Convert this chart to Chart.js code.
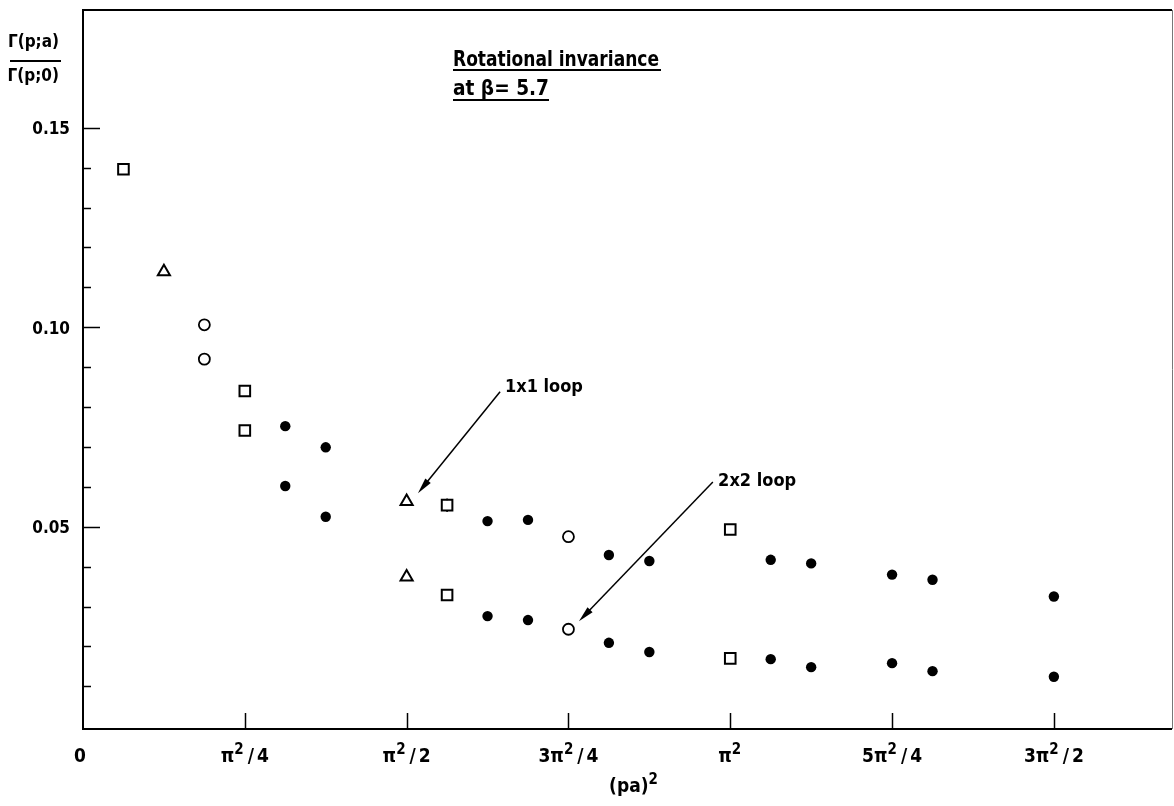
<!DOCTYPE html>
<html>
<head>
<meta charset="utf-8">
<script src="https://cdn.jsdelivr.net/npm/chart.js@4.4.1/dist/chart.umd.min.js"></script>
<style>
  html, body { margin: 0; padding: 0; background: #fff; }
  canvas { display: block; }
</style>
</head>
<body>
<canvas id="plot" width="1174" height="806"></canvas>
<script>
// (pa)^2 in units of pi^2/16, ratio Gamma(p;a)/Gamma(p;0)
const squareX = [1, 4, 4, 9, 9, 16, 16];
const squareY = [0.1396, 0.0840, 0.0741, 0.0554, 0.0329, 0.0493, 0.0170];
const squareErr = [0, 0, 0, 0.0017, 0, 0, 0];

const triangleX = [2, 8, 8];
const triangleY = [0.1139, 0.0563, 0.0374];

const ringX = [3, 3, 12, 12];
const ringY = [0.1006, 0.0920, 0.0475, 0.0243];

const dotX = [5, 5, 6, 6, 10, 10, 11, 11, 13, 13, 14, 14, 17, 17, 18, 18, 20, 20, 21, 21, 24, 24];
const dotY = [0.0752, 0.0602, 0.0699, 0.0525, 0.0514, 0.0276, 0.0517, 0.0266, 0.0429, 0.0209, 0.0414, 0.0186,
              0.0417, 0.0168, 0.0408, 0.0148, 0.0380, 0.0158, 0.0367, 0.0138, 0.0325, 0.0124];

const xTickValues = [0, 4, 8, 12, 16, 20, 24];
const xTickLabels = ['0', 'π²/4', 'π²/2', '3π²/4', 'π²', '5π²/4', '3π²/2'];
const yTickValues = [0.05, 0.10, 0.15];
const yTickLabels = ['0.05', '0.10', '0.15'];
const yMinorTicks = [0.01, 0.02, 0.03, 0.04, 0.06, 0.07, 0.08, 0.09, 0.11, 0.12, 0.13, 0.14];

const FONT = "'DejaVu Sans Condensed', 'Liberation Sans Narrow', sans-serif";

// labelled arrows, in data coordinates
const loopNotes = [
  { text: '1x1 loop', at: [10.43, 0.0838], from: [10.31, 0.0838], to: [8.28, 0.0584] },
  { text: '2x2 loop', at: [15.70, 0.0602], from: [15.57, 0.0612], to: [12.26, 0.0263] }
];

function pts(xs, ys) {
  return xs.map((v, i) => ({ x: v, y: ys[i] }));
}

// text where '²' is set as a raised, smaller 2; '/' gets a little air on both sides
function supText(ctx, text, x, y, size, align) {
  const big = 'bold ' + size + 'px ' + FONT;
  const small = 'bold ' + Math.round(size * 0.78) + 'px ' + FONT;
  const pieces = [];
  for (const ch of text) {
    if (ch === '²') pieces.push({ t: '2', f: small, dy: -size * 0.42, pad: 1 });
    else if (ch === '/') pieces.push({ t: '/', f: big, dy: 0, pad: 3, pre: 3 });
    else pieces.push({ t: ch, f: big, dy: 0, pad: 0 });
  }
  let w = 0;
  pieces.forEach(p => { ctx.font = p.f; p.w = ctx.measureText(p.t).width; w += p.w + p.pad + (p.pre || 0); });
  let cx = align === 'center' ? x - w / 2 : align === 'right' ? x - w : x;
  ctx.textAlign = 'left';
  pieces.forEach(p => {
    cx += p.pre || 0;
    ctx.font = p.f;
    ctx.fillText(p.t, cx, y + p.dy);
    cx += p.w + p.pad;
  });
}

function arrow(ctx, x1, y1, x2, y2) {
  const ang = Math.atan2(y2 - y1, x2 - x1);
  const len = 16, half = 3.5;
  ctx.beginPath();
  ctx.moveTo(x1, y1);
  ctx.lineTo(x2 - Math.cos(ang) * len * 0.8, y2 - Math.sin(ang) * len * 0.8);
  ctx.stroke();
  ctx.beginPath();
  ctx.moveTo(x2, y2);
  ctx.lineTo(x2 - Math.cos(ang) * len - Math.sin(ang) * half, y2 - Math.sin(ang) * len + Math.cos(ang) * half);
  ctx.lineTo(x2 - Math.cos(ang) * len + Math.sin(ang) * half, y2 - Math.sin(ang) * len - Math.cos(ang) * half);
  ctx.closePath();
  ctx.fill();
}

// frame, inward ticks, labels and notes
const paperAxes = {
  id: 'paperAxes',
  afterDatasetsDraw(chart) {
    const { ctx, chartArea: a, scales: { x, y } } = chart;
    ctx.save();
    ctx.strokeStyle = '#000';
    ctx.fillStyle = '#000';

    ctx.lineWidth = 2;
    ctx.beginPath();
    ctx.moveTo(a.right, a.top);
    ctx.lineTo(a.left, a.top);
    ctx.lineTo(a.left, a.bottom);
    ctx.lineTo(a.right, a.bottom);
    ctx.stroke();
    ctx.strokeStyle = '#777';
    ctx.lineWidth = 1;
    ctx.beginPath();
    ctx.moveTo(a.right + 0.5, a.top);
    ctx.lineTo(a.right + 0.5, a.bottom);
    ctx.stroke();
    ctx.strokeStyle = '#000';

    // y ticks
    ctx.lineWidth = 1.5;
    yTickValues.forEach(v => {
      const py = Math.round(y.getPixelForValue(v)) + 0.5;
      ctx.beginPath(); ctx.moveTo(a.left, py); ctx.lineTo(a.left + 17, py); ctx.stroke();
    });
    yMinorTicks.forEach(v => {
      const py = Math.round(y.getPixelForValue(v)) + 0.5;
      ctx.beginPath(); ctx.moveTo(a.left, py); ctx.lineTo(a.left + 8, py); ctx.stroke();
    });
    // x ticks
    xTickValues.forEach(v => {
      if (v === 0) return;
      const px = Math.round(x.getPixelForValue(v)) + 0.5;
      ctx.beginPath(); ctx.moveTo(px, a.bottom); ctx.lineTo(px, a.bottom - 16); ctx.stroke();
    });

    // error bar on the square at 9
    ctx.lineWidth = 1.5;
    squareErr.forEach((e, i) => {
      if (!e) return;
      const px = x.getPixelForValue(squareX[i]);
      const py = y.getPixelForValue(squareY[i]);
      ctx.beginPath();
      ctx.moveTo(px, y.getPixelForValue(squareY[i] + e)); ctx.lineTo(px, py - 5);
      ctx.moveTo(px, py + 5); ctx.lineTo(px, y.getPixelForValue(squareY[i] - e));
      ctx.stroke();
    });

    // tick labels
    ctx.font = 'bold 17px ' + FONT;
    ctx.textAlign = 'right';
    ctx.textBaseline = 'middle';
    yTickValues.forEach((v, i) => {
      ctx.fillText(yTickLabels[i], a.left - 13, y.getPixelForValue(v) + 2);
    });
    ctx.textBaseline = 'alphabetic';
    xTickValues.forEach((v, i) => {
      const px = x.getPixelForValue(v) + (v === 0 ? -3 : 0);
      supText(ctx, xTickLabels[i], px, a.bottom + 33, 19, 'center');
    });

    // axis titles
    supText(ctx, '(pa)²', 634, 792, 19, 'center');
    ctx.font = 'bold 17px ' + FONT;
    ctx.textAlign = 'right';
    ctx.fillText('Γ(p;a)', 59, 47);
    ctx.fillText('Γ(p;0)', 59, 81);
    ctx.lineWidth = 2;
    ctx.beginPath(); ctx.moveTo(10, 61); ctx.lineTo(61, 61); ctx.stroke();

    // heading, underlined
    ctx.textAlign = 'left';
    ctx.font = 'bold 22px ' + FONT;
    ctx.fillText('Rotational invariance', 453, 66, 206);
    ctx.fillText('at β= 5.7', 453, 95, 96);
    ctx.beginPath();
    ctx.moveTo(453, 70); ctx.lineTo(661, 70);
    ctx.moveTo(453, 100); ctx.lineTo(549, 100);
    ctx.stroke();

    // loop notes
    ctx.font = 'bold 18px ' + FONT;
    ctx.lineWidth = 1.5;
    loopNotes.forEach(n => {
      ctx.fillText(n.text, x.getPixelForValue(n.at[0]), y.getPixelForValue(n.at[1]));
      arrow(ctx,
        x.getPixelForValue(n.from[0]), y.getPixelForValue(n.from[1]),
        x.getPixelForValue(n.to[0]), y.getPixelForValue(n.to[1]));
    });
    ctx.restore();
  }
};

new Chart(document.getElementById('plot'), {
  type: 'scatter',
  data: {
    datasets: [
      { data: pts(squareX, squareY), pointStyle: 'rect', pointRadius: 7.5, pointBorderWidth: 2,
        borderColor: '#000', backgroundColor: '#fff' },
      { data: pts(triangleX, triangleY), pointStyle: 'triangle', pointRadius: 7, pointBorderWidth: 2,
        borderColor: '#000', backgroundColor: '#fff' },
      { data: pts(ringX, ringY), pointStyle: 'circle', pointRadius: 5.5, pointBorderWidth: 1.8,
        borderColor: '#000', backgroundColor: '#fff' },
      { data: pts(dotX, dotY), pointStyle: 'circle', pointRadius: 5.2, pointBorderWidth: 0,
        borderColor: '#000', backgroundColor: '#000' }
    ]
  },
  options: {
    responsive: false,
    animation: false,
    devicePixelRatio: 1,
    layout: { autoPadding: false, padding: { left: 83, top: 10, right: 2, bottom: 77 } },
    plugins: { legend: { display: false }, tooltip: { enabled: false } },
    scales: {
      x: { type: 'linear', display: false, min: 0, max: 26.92 },
      y: { type: 'linear', display: false, min: -0.0007, max: 0.1795 }
    }
  },
  plugins: [paperAxes]
});
</script>
</body>
</html>
